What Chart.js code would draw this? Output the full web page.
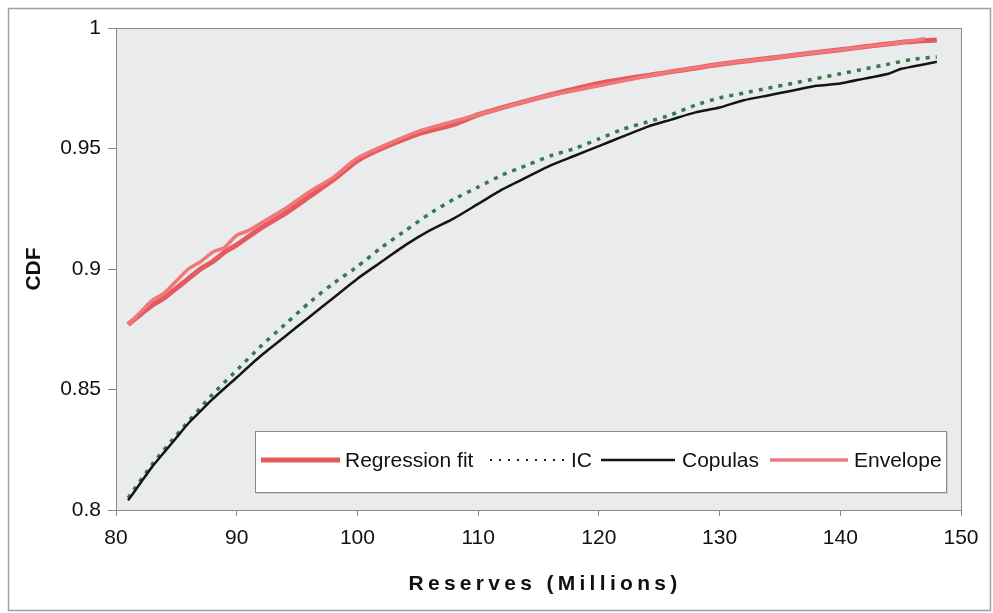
<!DOCTYPE html>
<html>
<head>
    <meta charset="UTF-8">
    <title>Reserves CDF</title>
    <script src="https://cdn.jsdelivr.net/npm/chart.js"></script>
    <style>
        html, body { margin: 0; padding: 0; background: #fff; }
        #wrap { width: 993px; height: 613px; position: relative; }
    </style>
</head>
<body>
<div id="wrap"><canvas id="cdfChart" width="993" height="613"></canvas></div>

<script>
    // values
    const xTicks = [80, 90, 100, 110, 120, 130, 140, 150];
    const yTicks = [0.8, 0.85, 0.9, 0.95, 1];

    const regX = [81, 82, 83, 84, 85, 86, 87, 88, 89, 90, 92, 94, 96, 98, 100, 102, 105, 108, 110, 115, 120, 125, 130, 135, 140, 145, 148];
    const regY = [0.877, 0.881, 0.885, 0.888, 0.892, 0.896, 0.900, 0.903, 0.907, 0.910, 0.917, 0.923, 0.930, 0.937, 0.945, 0.950, 0.956, 0.960, 0.964, 0.971, 0.977, 0.981, 0.985, 0.988, 0.991, 0.994, 0.995];

    const icX = [81, 83, 85, 88, 90, 92, 94, 96, 98, 100, 102, 104, 106, 108, 110, 112, 114, 116, 118, 120, 122, 124, 126, 128, 130, 132, 134, 136, 138, 140, 142, 144, 146, 148];
    const icY = [0.805, 0.819, 0.831, 0.848, 0.858, 0.868, 0.877, 0.886, 0.894, 0.901, 0.909, 0.916, 0.923, 0.929, 0.934, 0.939, 0.943, 0.947, 0.950, 0.954, 0.958, 0.961, 0.964, 0.968, 0.971, 0.973, 0.975, 0.977, 0.979, 0.981, 0.983, 0.985, 0.987, 0.988];

    const copX = [81, 82, 83, 84, 85, 86, 87, 88, 90, 92, 94, 96, 98, 100, 102, 104, 106, 108, 110, 112, 114, 116, 118, 120, 122, 124, 126, 128, 130, 132, 134, 136, 138, 140, 142, 144, 145, 146, 148];
    const copY = [0.804, 0.811, 0.818, 0.824, 0.830, 0.836, 0.841, 0.846, 0.855, 0.864, 0.872, 0.880, 0.888, 0.896, 0.903, 0.910, 0.916, 0.921, 0.927, 0.933, 0.938, 0.943, 0.947, 0.951, 0.955, 0.959, 0.962, 0.965, 0.967, 0.970, 0.972, 0.974, 0.976, 0.977, 0.979, 0.981, 0.983, 0.984, 0.986];

    const envX = [81, 82, 83, 84, 85, 86, 87, 88, 89, 90, 91, 92, 93, 94, 96, 98, 100, 105, 110, 115, 120, 125, 130, 135, 140, 145, 147];
    const envY = [0.877, 0.882, 0.887, 0.890, 0.895, 0.900, 0.903, 0.907, 0.909, 0.914, 0.916, 0.919, 0.922, 0.925, 0.932, 0.938, 0.946, 0.957, 0.964, 0.971, 0.976, 0.981, 0.985, 0.988, 0.991, 0.994, 0.9955];

    const seriesNames = ['Regression fit', 'IC', 'Copulas', 'Envelope'];

    function toPoints(xs, ys) {
        var pts = [];
        for (var i = 0; i < xs.length; i++) pts.push({ x: xs[i], y: ys[i] });
        return pts;
    }

    const FONT = "'Liberation Sans', Arial, sans-serif";

    // grey plot area, frame and outer border
    const frame = {
        id: 'frame',
        beforeDraw(chart) {
            const c = chart.ctx, a = chart.chartArea;
            c.save();
            c.fillStyle = '#fff';
            c.fillRect(0, 0, chart.width, chart.height);
            c.strokeStyle = '#a0a0a0';
            c.lineWidth = 1.5;
            c.strokeRect(8.5, 8.5, 982, 602);
            c.fillStyle = '#e9ebed';
            c.fillRect(a.left, a.top, a.right - a.left, a.bottom - a.top);
            c.strokeStyle = '#8a8a8a';
            c.lineWidth = 1;
            c.strokeRect(a.left + 0.5, a.top + 0.5, a.right - a.left, a.bottom - a.top);
            c.restore();
        },
        afterDraw(chart) {
            const c = chart.ctx, a = chart.chartArea;
            c.save();
            // axis titles
            c.fillStyle = '#111';
            c.font = 'bold 21px ' + FONT;
            c.textAlign = 'center';
            c.textBaseline = 'alphabetic';
            c.letterSpacing = '4.3px';
            c.fillText('Reserves (Millions)', 545, 590);
            c.letterSpacing = '0px';
            c.translate(40, (a.top + a.bottom) / 2);
            c.rotate(-Math.PI / 2);
            c.fillText('CDF', 0, 0);
            c.restore();

            // legend box inside the plot
            c.save();
            const bx = 255, by = 431, bw = 691, bh = 61;
            c.fillStyle = 'rgba(0,0,0,0.12)';
            c.fillRect(bx + 2, by + 2, bw, bh);
            c.fillStyle = '#fff';
            c.fillRect(bx, by, bw, bh);
            c.strokeStyle = '#8a8a8a';
            c.lineWidth = 1;
            c.strokeRect(bx + 0.5, by + 0.5, bw, bh);
            const ly = 460;
            const items = [
                { x1: 261, x2: 340, tx: 345, ds: chart.data.datasets[0] },
                { x1: 490, x2: 566, tx: 571, ds: chart.data.datasets[1] },
                { x1: 601, x2: 675, tx: 682, ds: chart.data.datasets[2] },
                { x1: 770, x2: 848, tx: 854, ds: chart.data.datasets[3] }
            ];
            items.forEach(function (it) {
                c.beginPath();
                c.strokeStyle = it.ds.label === 'IC' ? '#222' : it.ds.borderColor;
                c.lineWidth = it.ds.label === 'IC' ? 2 : it.ds.borderWidth;
                c.setLineDash(it.ds.label === 'IC' ? [2, 7] : []);
                c.moveTo(it.x1, ly);
                c.lineTo(it.x2, ly);
                c.stroke();
                c.setLineDash([]);
                c.fillStyle = '#111';
                c.font = '21px ' + FONT;
                c.textAlign = 'left';
                c.textBaseline = 'middle';
                c.fillText(it.ds.label, it.tx, ly + 1);
            });
            c.restore();
        }
    };

    const ctx = document.getElementById('cdfChart').getContext('2d');
    const cdfChart = new Chart(ctx, {
        type: 'scatter',
        data: {
            datasets: [
                { label: seriesNames[0], data: toPoints(regX, regY), borderColor: '#e45a5e', borderWidth: 5, order: 2 },
                { label: seriesNames[1], data: toPoints(icX, icY), borderColor: '#357a4c', borderWidth: 3.5, borderDash: [4, 6], order: 4 },
                { label: seriesNames[2], data: toPoints(copX, copY), borderColor: '#141414', borderWidth: 2.5, order: 3 },
                { label: seriesNames[3], data: toPoints(envX, envY), borderColor: '#f07878', borderWidth: 3.5, order: 1 }
            ]
        },
        options: {
            responsive: false,
            animation: false,
            showLine: true,
            elements: {
                point: { radius: 0, hoverRadius: 0 },
                line: { tension: 0.2, fill: false }
            },
            layout: { padding: { left: 0, top: 28, right: 32, bottom: 0 } },
            plugins: {
                legend: { display: false },
                tooltip: { enabled: false }
            },
            scales: {
                x: {
                    type: 'linear',
                    min: 80, max: 150,
                    afterBuildTicks: function (axis) { axis.ticks = xTicks.map(function (v) { return { value: v }; }); },
                    afterFit: function (axis) { axis.height = 103; },
                    grid: { drawOnChartArea: false, color: '#8a8a8a', tickLength: 6 },
                    border: { color: '#8a8a8a' },
                    ticks: { color: '#111', font: { family: FONT, size: 21 }, padding: 10, maxRotation: 0 }
                },
                y: {
                    min: 0.8, max: 1,
                    afterBuildTicks: function (axis) { axis.ticks = yTicks.map(function (v) { return { value: v }; }); },
                    afterFit: function (axis) { axis.width = 116; },
                    grid: { drawOnChartArea: false, color: '#8a8a8a', tickLength: 8 },
                    border: { color: '#8a8a8a' },
                    ticks: { color: '#111', font: { family: FONT, size: 21 }, padding: 7,
                        callback: function (v) { return String(Math.round(v * 100) / 100); } }
                }
            }
        },
        plugins: [frame]
    });
</script>
</body>
</html>
